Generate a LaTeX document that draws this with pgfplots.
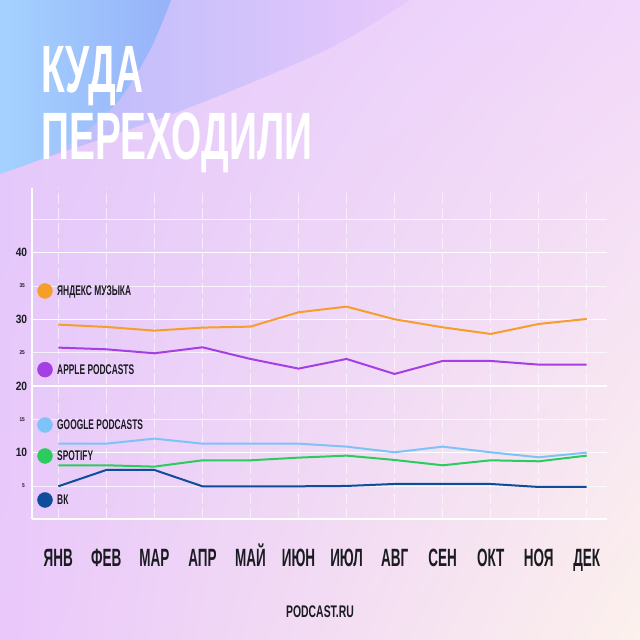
\documentclass[border=0pt]{standalone}
\usepackage{pgfplots}
\pgfplotsset{compat=1.18}
\usetikzlibrary{shadings}
\usepackage{fontspec}
\newfontfamily\titlefont[FakeStretch=0.58]{Liberation Sans}
\newfontfamily\monthfont[FakeStretch=0.54]{Liberation Sans}
\newfontfamily\labfont[FakeStretch=0.60]{Liberation Sans}
\newfontfamily\numfont[FakeStretch=0.85]{Liberation Sans}
\newfontfamily\logofont[FakeStretch=0.62]{Liberation Sans}
\definecolor{cYa}{HTML}{F59E2A}
\definecolor{cAp}{HTML}{A43FE3}
\definecolor{cGo}{HTML}{7EC3F7}
\definecolor{cSp}{HTML}{2CCB5E}
\definecolor{cVk}{HTML}{0E4C9C}
\definecolor{ink}{HTML}{1B1B22}
\definecolor{bgUL}{HTML}{E2C8FB}
\definecolor{bgUR}{HTML}{F2D8FA}
\definecolor{bgLL}{HTML}{EAC8FA}
\definecolor{bgLR}{HTML}{FCF1EC}
\definecolor{bP1}{HTML}{B4BBFB}
\definecolor{bP2}{HTML}{E8C8FB}
\definecolor{bB1}{HTML}{A4D2FF}
\definecolor{bB2}{HTML}{97B2F9}
\begin{document}
\begin{tikzpicture}
\useasboundingbox (0pt,0pt) rectangle (640pt,640pt);
\shade[upper left=bgUL, upper right=bgUR, lower left=bgLL, lower right=bgLR] (0pt,0pt) rectangle (640pt,640pt);
\shade[left color=bP1, right color=bP2] plot[smooth] coordinates {(0pt,467pt) (175pt,527pt) (326pt,590pt) (410pt,640pt)} -- (0pt,640pt) -- cycle;
\shade[left color=bB1, right color=bB2] plot[smooth] coordinates {(0pt,466pt) (60pt,490pt) (115pt,535pt) (150pt,590pt) (171pt,640pt)} -- (0pt,640pt) -- cycle;
\node[anchor=base west, inner sep=0pt, text=white, font=\titlefont\bfseries\fontsize{67}{67}\selectfont] at (41pt,547pt) {КУДА};
\node[anchor=base west, inner sep=0pt, text=white, font=\titlefont\bfseries\fontsize{67}{67}\selectfont] at (41pt,480pt) {ПЕРЕХОДИЛИ};
\node[anchor=base, inner sep=0pt, text=ink, font=\logofont\bfseries\fontsize{16.8}{17}\selectfont] at (320pt,22pt) {PODCAST.RU};
\begin{axis}[
  at={(32pt,120.7pt)}, anchor=south west,
  x=48.04pt, y=6.667pt,
  xmin=-0.5475, xmax=11.42, ymin=0, ymax=49.7,
  axis x line*=bottom, axis y line*=left,
  axis line style={white, line width=1.6pt, -},
  /pgf/number format/assume math mode=true,
  xtick={0,...,11},
  xticklabels={ЯНВ,ФЕВ,МАР,АПР,МАЙ,ИЮН,ИЮЛ,АВГ,СЕН,ОКТ,НОЯ,ДЕК},
  ytick={10,20,30,40},
  minor ytick={5,15,25,35,45},
  extra y ticks={5,15,25,35},
  extra y tick style={ymajorgrids=false, yticklabel style={font=\numfont\bfseries\fontsize{5.6}{6}\selectfont, xshift=-2.3pt}},
  xmajorgrids, ymajorgrids, yminorgrids,
  major x grid style={white, line width=0.8pt, dash pattern=on 11pt off 4pt, opacity=0.6},
  major y grid style={white, line width=1.4pt},
  minor y grid style={white, line width=0.8pt, opacity=0.7},
  tick style={draw=none}, major tick length=0pt, minor tick length=0pt,
  yticklabel style={font=\numfont\bfseries\fontsize{12}{12}\selectfont, text=ink, anchor=east, inner sep=0pt, xshift=-4.7pt},
  xticklabel style={font=\monthfont\bfseries\fontsize{25}{25}\selectfont, text=ink, anchor=base, inner sep=0pt, yshift=-47pt},
  clip=false,
]
\addplot[cYa, line width=2pt, mark=none] coordinates {(0,29.2) (1,28.85) (2,28.3) (3,28.75) (4,28.9) (5,31.05) (6,31.9) (7,30.0) (8,28.8) (9,27.8) (10,29.3) (11,30.05)};
\addplot[cAp, line width=2pt, mark=none] coordinates {(0,25.75) (1,25.5) (2,24.9) (3,25.8) (4,24.05) (5,22.6) (6,24.05) (7,21.8) (8,23.75) (9,23.75) (10,23.2) (11,23.2)};
\addplot[cGo, line width=2pt, mark=none] coordinates {(0,11.35) (1,11.35) (2,12.1) (3,11.35) (4,11.35) (5,11.35) (6,10.9) (7,10.05) (8,10.9) (9,10.05) (10,9.3) (11,10.0)};
\addplot[cSp, line width=2pt, mark=none] coordinates {(0,8.1) (1,8.1) (2,7.9) (3,8.85) (4,8.85) (5,9.25) (6,9.55) (7,8.9) (8,8.1) (9,8.85) (10,8.7) (11,9.55)};
\addplot[cVk, line width=2pt, mark=none] coordinates {(0,4.95) (1,7.4) (2,7.4) (3,4.95) (4,4.95) (5,4.95) (6,5.0) (7,5.3) (8,5.3) (9,5.3) (10,4.85) (11,4.85)};
\addplot[only marks, mark=*, mark size=7.5pt, cYa] coordinates {(-0.277,34.25)};
\addplot[only marks, mark=*, mark size=7.5pt, cAp] coordinates {(-0.277,22.45)};
\addplot[only marks, mark=*, mark size=7.5pt, cGo] coordinates {(-0.277,14.15)};
\addplot[only marks, mark=*, mark size=7.5pt, cSp] coordinates {(-0.277,9.5)};
\addplot[only marks, mark=*, mark size=7.5pt, cVk] coordinates {(-0.277,2.9)};
\tikzset{leglab/.style={anchor=base west, inner sep=0pt, xshift=12pt, yshift=-5pt, text=ink, font=\labfont\bfseries\fontsize{14}{14}\selectfont}}
\node[leglab] at (axis cs:-0.277,34.25) {ЯНДЕКС МУЗЫКА};
\node[leglab] at (axis cs:-0.277,22.45) {APPLE PODCASTS};
\node[leglab] at (axis cs:-0.277,14.15) {GOOGLE PODCASTS};
\node[leglab] at (axis cs:-0.277,9.5) {SPOTIFY};
\node[leglab] at (axis cs:-0.277,2.9) {ВК};
\end{axis}
\end{tikzpicture}
\end{document}
